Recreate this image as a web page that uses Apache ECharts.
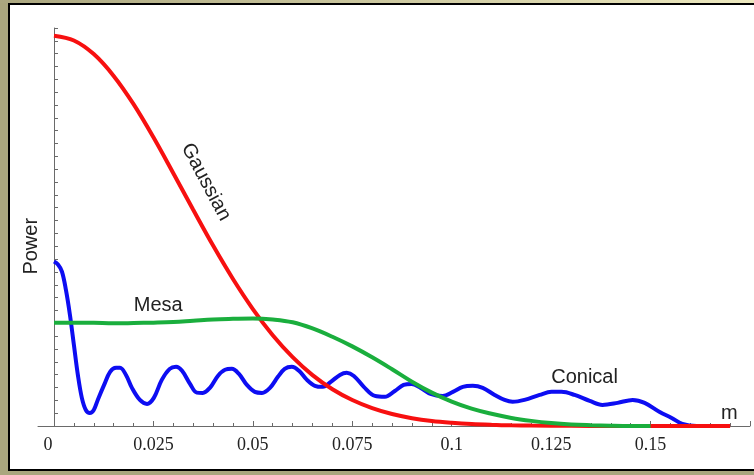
<!DOCTYPE html>
<html>
<head>
<meta charset="utf-8">
<script src="https://cdn.jsdelivr.net/npm/echarts@6/dist/echarts.min.js"></script>
<style>
  html, body { margin: 0; padding: 0; width: 754px; height: 475px; overflow: hidden; background: #aaa67e; }
  #topstrip { position: absolute; left: 0; top: 0; width: 754px; height: 3px; background: linear-gradient(to right, #aba780, #ece8bf); }
  #panel { position: absolute; left: 8px; top: 3px; width: 746px; height: 468px; background: #fff;
           border-left: 2px solid #000; border-top: 2px solid #000; border-bottom: 2px solid #000; box-sizing: border-box; }
  #bottomstrip { position: absolute; left: 8px; top: 471px; width: 746px; height: 4px; background: #d8d8d0; }
  #chart { position: absolute; left: 0; top: 0; width: 754px; height: 475px; }
</style>
</head>
<body>
<div id="topstrip"></div>
<div id="panel"></div>
<div id="chart"></div>
<script>
// ---- data (x in m, Power in arbitrary units) ----
const gaussX = [0,0.005,0.01,0.015,0.02,0.025,0.03,0.035,0.04,0.045,0.05,0.055,0.06,0.065,0.07,0.075,0.08,0.085,0.09,0.095,0.1,0.105,0.11,0.115,0.12,0.13,0.14,0.15,0.16,0.17];
const gaussY = [30.4,30.03,28.97,27.27,25.07,22.49,19.69,16.84,14.05,11.45,9.11,7.07,5.36,3.96,2.86,2.02,1.39,0.93,0.61,0.39,0.25,0.15,0.09,0.05,0.03,0.01,0,0,0,0];

const mesaX = [0,0.005,0.01,0.015,0.02,0.025,0.03,0.035,0.04,0.045,0.05,0.055,0.06,0.065,0.07,0.075,0.08,0.085,0.09,0.095,0.1,0.105,0.11,0.115,0.12,0.125,0.13,0.135,0.14,0.145,0.15];
const mesaY = [8.05,8.05,8.04,8.0,8.02,8.05,8.1,8.2,8.3,8.35,8.38,8.3,8.08,7.6,6.95,6.2,5.35,4.42,3.45,2.6,1.9,1.35,0.95,0.63,0.4,0.23,0.12,0.06,0.02,0,0];

const conicalX = [0,0.001,0.002,0.003,0.004,0.005,0.006,0.007,0.008,0.009,0.010,0.011,0.0126,0.0141,0.0156,0.0166,0.0181,0.0196,0.0216,0.0234,0.0251,0.0271,0.0291,0.0307,0.0322,0.0342,0.0359,0.0374,0.0392,0.0412,0.0430,0.0447,0.0465,0.0485,0.0505,0.0523,0.0543,0.0563,0.0580,0.0598,0.0616,0.0636,0.0656,0.0676,0.0696,0.0719,0.0736,0.0754,0.0779,0.0807,0.0832,0.0857,0.0879,0.0899,0.0922,0.0947,0.0977,0.1003,0.1028,0.1053,0.1078,0.1108,0.1133,0.1153,0.1183,0.1221,0.1251,0.1276,0.1309,0.1347,0.1379,0.1417,0.1455,0.1485,0.1523,0.1553,0.1580,0.1616,0.1648];
const conicalY = [12.81,12.58,12.03,10.6,8.67,6.33,3.98,2.19,1.25,1.02,1.25,2.03,3.2,4.22,4.53,4.53,3.98,2.97,2.03,1.72,2.19,3.59,4.45,4.61,4.3,3.28,2.6,2.58,2.97,3.9,4.38,4.45,4.06,3.2,2.66,2.58,2.97,3.83,4.45,4.61,4.3,3.59,3.13,3.05,3.44,3.98,4.14,3.9,3.05,2.34,2.27,2.73,3.2,3.28,2.97,2.5,2.34,2.66,3.05,3.13,2.97,2.42,2.03,1.88,2.03,2.42,2.66,2.66,2.42,1.95,1.64,1.8,2.03,1.8,1.09,0.63,0.16,0,0];

const xTicks = { min: 0, max: 0.175, interval: 0.025 };
const yTicks = { min: 0, max: 31, interval: 1 };

const labels = [
  { text: 'Mesa', x: 0.0262, y: 9.375, rot: 0 },
  { text: 'Conical', x: 0.1334, y: 3.8, rot: 0 },
  { text: 'Gaussian', x: 0.0382, y: 19.0, rot: -62 },
  { text: 'm', x: 0.1698, y: 1.0, rot: 0 }
];
const yName = 'Power';

const zip = (xs, ys) => xs.map((x, i) => [x, ys[i]]);

const chart = echarts.init(document.getElementById('chart'), null, { renderer: 'canvas' });
const axisColor = '#6a6a6a';
const option = {
  backgroundColor: 'transparent',
  animation: false,
  grid: [
    { left: 54, right: 4, top: 28, bottom: 49 },
    { left: 38, right: 4, top: 28, bottom: 49 }
  ],
  xAxis: [
    {
      type: 'value', gridIndex: 0, min: xTicks.min, max: xTicks.max, interval: xTicks.interval,
      axisLine: { show: false },
      axisTick: { show: true, inside: true, length: 5, lineStyle: { color: axisColor } },
      minorTick: { show: true, splitNumber: 5, length: 3, lineStyle: { color: axisColor } },
      splitLine: { show: false },
      axisLabel: {
        margin: 10, showMaxLabel: false,
        fontFamily: 'Liberation Serif', fontSize: 18, color: '#222',
        formatter: v => (v === 0 ? '{z|0}' : String(+v.toFixed(3))),
        rich: { z: { fontFamily: 'Liberation Serif', fontSize: 18, color: '#222', padding: [0, 12, 0, 0] } }
      }
    },
    {
      type: 'value', gridIndex: 1, min: -0.004, max: xTicks.max,
      axisLine: { show: true, lineStyle: { color: axisColor, width: 1 } },
      axisTick: { show: false }, axisLabel: { show: false }, splitLine: { show: false }
    }
  ],
  yAxis: [
    {
      type: 'value', gridIndex: 0, min: yTicks.min, max: yTicks.max, interval: yTicks.interval,
      axisLine: { show: true, lineStyle: { color: axisColor, width: 1 } },
      axisTick: { show: true, inside: true, length: 4, lineStyle: { color: axisColor } },
      axisLabel: { show: false },
      splitLine: { show: false }
    },
    { type: 'value', gridIndex: 1, show: false, min: 0, max: 31 }
  ],
  series: [
    { name: 'Conical', type: 'line', xAxisIndex: 0, yAxisIndex: 0, data: zip(conicalX, conicalY),
      smooth: 0.35, showSymbol: false, lineStyle: { color: '#0d0df2', width: 4 }, z: 2 },
    { name: 'Gaussian', type: 'line', xAxisIndex: 0, yAxisIndex: 0, data: zip(gaussX, gaussY),
      smooth: 0.35, showSymbol: false, lineStyle: { color: '#f71010', width: 4 }, z: 3 },
    { name: 'Mesa', type: 'line', xAxisIndex: 0, yAxisIndex: 0, data: zip(mesaX, mesaY),
      smooth: 0.4, showSymbol: false, lineStyle: { color: '#1aae3d', width: 4 }, z: 4 }
  ]
};
chart.setOption(option);

const textStyle = { fontFamily: 'Liberation Sans', fontSize: 20, fill: '#222', align: 'center', verticalAlign: 'middle' };
const g = labels.map(l => {
  const p = chart.convertToPixel({ gridIndex: 0 }, [l.x, l.y]);
  return { type: 'text', x: p[0], y: p[1], rotation: l.rot * Math.PI / 180, style: Object.assign({ text: l.text }, textStyle), z: 10 };
});
const py = chart.convertToPixel({ gridIndex: 0 }, [0, 14.0]);
g.push({ type: 'text', x: 31, y: py[1], rotation: Math.PI / 2, style: Object.assign({ text: yName }, textStyle), z: 10 });
chart.setOption({ graphic: g });
</script>
</body>
</html>
